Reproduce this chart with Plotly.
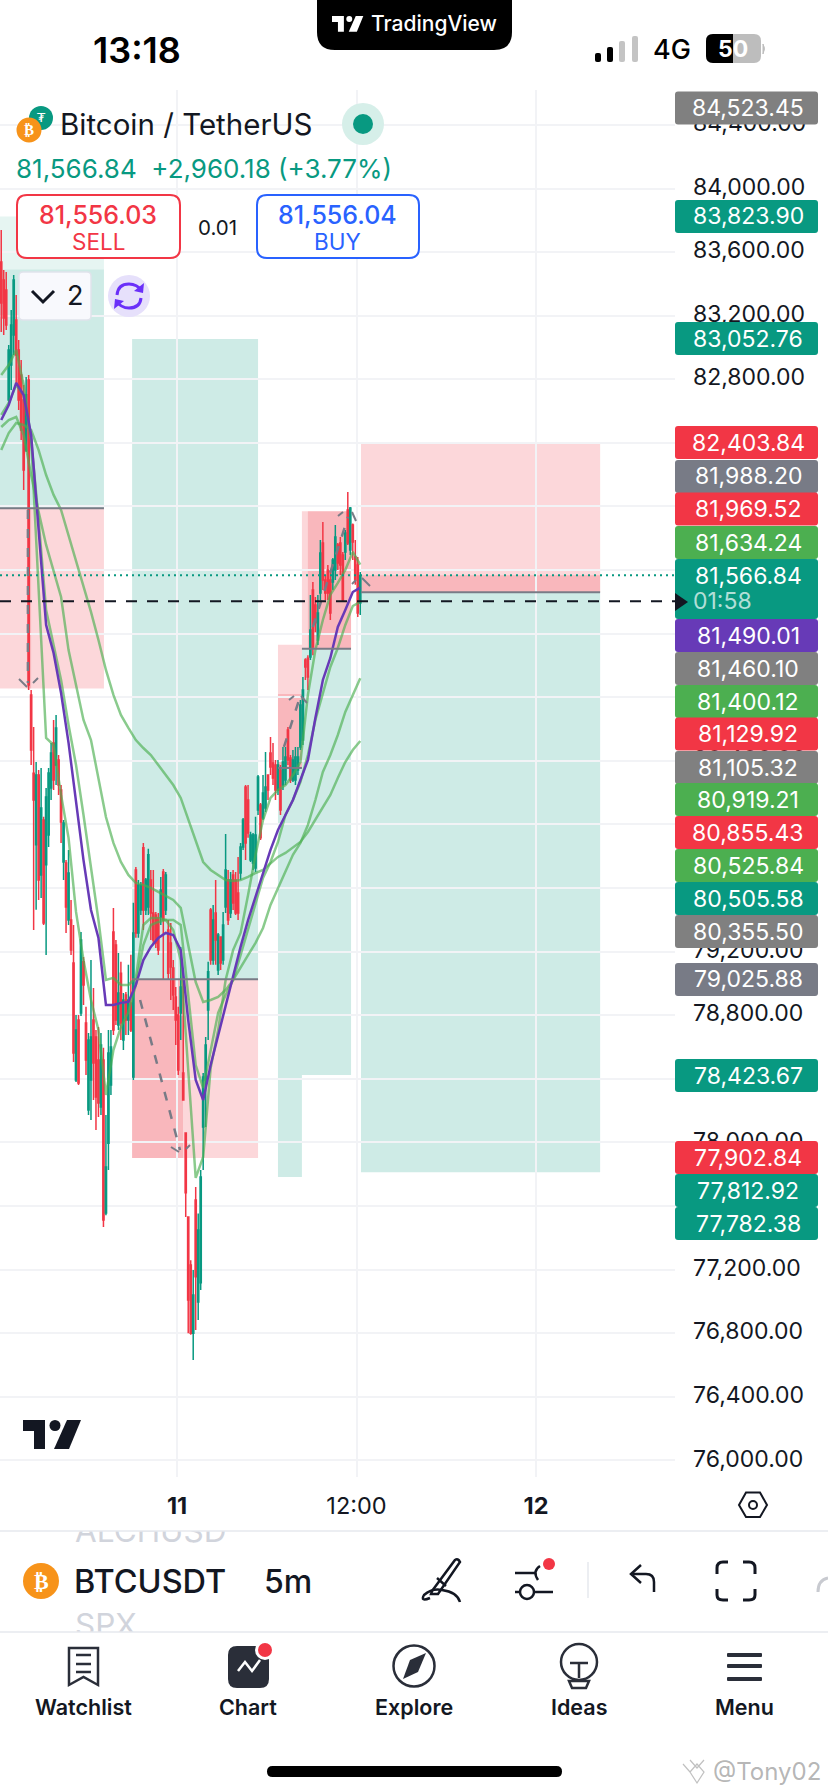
import re
import pandas as pd
import plotly.graph_objects as go

W, H = 828, 1792

##### chart data #####
opens = [83538,83425,83362,82670,82890,83079,83173,82984,82827,82670,
         82355,82796,80814,80323,79872,80311,79682,80028,79746,79934,
         80230,80513,80374,80405,80217,79764,79758,79399,79399,79129,
         78393,78770,78815,79136,78752,78204,78393,78770,78663,78518,
         78223,78518,77556,77995,78362,79324,79242,78739,79065,78644,
         78928,78770,78877,78412,79714,79318,79462,79853,79462,79481,
         79651,79443,79431,79412,79418,79701,79462,79336,79254,79097,
         78915,78802,78815,78437,78060,77531,77230,76800,77638,76997,
         77117,78098,78393,78833,79462,79147,79443,79085,79293,79147,
         79481,79651,79443,79683,79651,79569,79695,79859,80236,80154,
         79777,79758,79726,80091,80123,80041,80104,80311,80450,80387,
         80374,80217,80343,80248,80280,80594,80418,80280,80280,80343,
         80488,80531,81034,81046,81054,81475,81381,81160,81456,81770,
         81538,81601,81538,81525,81601,81758,81770,81695,81714,81978,
         81726,81884,81682,81632,81393]
highs = [83739,83487,83475,83016,83236,83456,83330,83047,82921,82764,
         82815,82827,80846,80613,80393,80342,80355,80048,80230,80355,
         80513,80657,80688,80437,80248,80028,79776,79840,79525,79368,
         78802,78802,79324,79167,78853,78689,79148,78972,78707,78727,
         78689,78595,78173,78708,78708,79475,79273,79192,79136,78940,
         78947,79117,79180,79507,79733,79651,79639,79884,79664,79847,
         79714,79714,79450,79443,79670,79720,79701,79399,79380,79147,
         78978,78853,79229,79065,78060,77531,77260,77198,77720,77553,
         77827,78437,78664,79136,79475,79494,79651,79318,79293,79450,
         79940,79714,79701,79714,79701,79796,79884,80040,80248,80248,
         79954,79947,80048,80311,80135,80311,80456,80311,80550,80512,
         80406,80406,80374,80488,80488,80613,80437,80469,80488,80488,
         80783,80928,81046,81065,81444,81525,81431,81444,81789,81903,
         81569,81632,81601,81676,81884,81770,81808,81714,81852,82091,
         81997,81893,81789,81682,81588]
lows = [83097,83079,83110,82638,82733,82953,82764,82607,82418,82104,
        82342,80846,80374,79336,79463,79525,79538,79368,79179,79859,
        80154,80217,80248,80186,79884,79651,79318,79368,79179,78506,
        78380,78362,78796,78865,78424,78173,78142,78267,78078,78160,
        78173,77468,77543,77827,78299,78676,78739,78707,78644,78581,
        78676,78676,78695,78393,79287,79287,79431,79336,79431,79431,
        79273,79242,79223,79179,79368,79022,79431,79022,78896,78833,
        78613,78424,78644,78267,77531,76800,76790,76632,76820,76883,
        77072,77827,78098,78644,79117,79117,79117,79053,79085,79117,
        79443,79368,79412,79462,79431,79399,79651,79840,79776,79916,
        79764,79714,79701,80060,79902,80028,80079,80154,80311,80248,
        80154,80186,80060,80217,80248,80374,80261,80267,80248,80311,
        80469,80500,80909,80846,81034,81065,81211,81129,81412,81475,
        81412,81412,81286,81475,81538,81601,81569,81400,81663,81758,
        81695,81663,81507,81305,81318]
closes = [83280,83186,83142,82984,83142,83425,82953,82670,82481,82230,
          82702,80877,80468,80154,80311,79651,80103,79380,80173,80324,
          80450,80280,80607,80248,80016,80009,79481,79695,79210,78563,
          78707,78374,79273,78991,78518,78644,78663,78500,78286,78248,
          78613,77512,77846,78563,78601,78707,78770,78940,78752,78896,
          78770,78896,78707,79318,79318,79620,79620,79462,79651,79809,
          79443,79273,79254,79210,79588,79399,79683,79065,79103,78928,
          78770,78456,78978,78267,77683,77009,76800,77040,77155,77449,
          77783,78412,78613,79073,79147,79399,79273,79305,79129,79368,
          79714,79399,79651,79506,79443,79443,79859,80028,79884,79947,
          79934,79934,79934,80298,79916,80198,80236,80217,80362,80293,
          80217,80374,80091,80393,80425,80406,80280,80406,80425,80425,
          80752,80846,80991,80928,81223,81116,81268,81330,81708,81538,
          81456,81456,81330,81663,81808,81645,81632,81412,81833,81770,
          81991,81777,81538,81330,81566]

# moving averages, one reading every third candle
ma_purple = [82544,82638,82777,82701,82450,81852,81255,81079,80827,80513,
             80135,79776,79462,79286,78865,78865,78878,78884,78991,79147,
             79230,79286,79318,79305,79210,78770,78393,78267,78487,78676,
             78865,79053,79230,79399,79544,79683,79840,79965,80060,80154,
             80280,80405,80670,80909,81047,81242,81349,81462,81490]
ma_fast = [82827,82890,82984,82764,82418,81475,80544,80500,80186,79916,
           79450,79147,78896,78707,78299,78581,78726,78821,78991,79242,
           79368,79387,79399,79336,79147,78456,77777,77909,78469,78707,
           79022,79210,79318,79557,79809,80028,80167,80217,80248,80311,
           80393,80815,81097,81286,81444,81519,81601,81714,81634]
ma_mid = [82576,82651,82764,82701,82418,81915,81349,81129,80909,80626,
          80374,80060,79726,79399,79022,79035,78991,78991,79035,79368,
          79412,79412,79399,79399,79368,78928,78487,78343,78581,78815,
          78928,79022,79179,79336,79506,79664,79764,79890,80060,80154,
          80267,80437,80657,80827,80991,81110,81255,81374,81400]
ma_slow = [82500,82544,82563,82450,82198,81966,81758,81588,81431,81097,
           80877,80657,80531,80280,80047,79884,79764,79683,79632,79620,
           79601,79576,79551,79525,79475,79242,79009,78884,78896,78915,
           78959,79022,79104,79179,79255,79349,79494,79601,79701,79809,
           79884,79997,80154,80330,80437,80563,80708,80815,80919]
ma_long = [82355,82462,82525,82513,82481,82355,82198,82073,81978,81821,
           81663,81506,81337,81160,80972,80815,80689,80607,80531,80481,
           80437,80374,80311,80248,80167,80028,79902,79764,79714,79683,
           79651,79645,79651,79670,79695,79714,79758,79796,79821,79853,
           79890,79953,80028,80104,80186,80293,80393,80468,80525]

# position tool boxes: start, end, top price, bottom price, kind
box_start = ["2025-03-10 12:10","2025-03-10 12:10","2025-03-10 12:10","2025-03-10 13:58",
             "2025-03-10 21:00","2025-03-10 21:00","2025-03-10 21:00",
             "2025-03-11 06:45","2025-03-11 06:45","2025-03-11 06:45",
             "2025-03-11 08:21","2025-03-11 08:21","2025-03-11 08:45",
             "2025-03-11 12:18","2025-03-11 12:18","2025-03-11 12:18"]
box_end = ["2025-03-10 19:07","2025-03-10 19:07","2025-03-10 19:07","2025-03-10 14:15",
           "2025-03-11 05:25","2025-03-11 05:25","2025-03-11 00:24",
           "2025-03-11 08:21","2025-03-11 08:21","2025-03-11 08:21",
           "2025-03-11 11:38","2025-03-11 11:38","2025-03-11 11:38",
           "2025-03-12 04:17","2025-03-12 04:17","2025-03-12 04:17"]
box_top = [83490,83823.90,81988.20,81988.20,
           83052.76,79025.88,79025.88,
           81129.92,80355.50,80820,
           81969.52,81105.32,81969.52,
           82403.84,81460.10,81566.84]
box_bottom = [81988.20,83490,80855.43,80855.43,
              79025.88,77902.84,77902.84,
              80355.50,77782.38,80355.50,
              81105.32,78423.67,81105.32,
              81460.10,77812.92,81460.10]
box_kind = ["g","p","r","r","g","r","r","r","g","r","r","g","r","r","g","r"]

# entry lines of the boxes
entry_start = ["2025-03-10 12:10","2025-03-10 21:00","2025-03-11 06:45","2025-03-11 08:21","2025-03-11 12:18"]
entry_end = ["2025-03-10 19:07","2025-03-11 05:25","2025-03-11 08:21","2025-03-11 11:38","2025-03-12 04:17"]
entry_price = [81988.20,79025.88,80355.50,81105.32,81460.10]

# dashed trade paths
path_times = [["2025-03-10 14:02","2025-03-10 14:02"],["2025-03-10 21:32","2025-03-11 00:12"],
              ["2025-03-11 07:09","2025-03-11 08:13"],["2025-03-11 09:05","2025-03-11 11:26"]]
path_prices = [[81978,80890],[78896,77952],[80488,80800],[81242,81934]]

price_ticks = list(range(76000, 84800, 400))
time_ticks = ["2025-03-11 00:00","2025-03-11 12:00","2025-03-12 00:00"]
time_labels = ["<b>11</b>","12:00","<b>12</b>"]

last_price = 81566.84
bid_line = 81404

tag_text = ["84,523.45","83,823.90","83,052.76","82,403.84","81,988.20","81,969.52","81,634.24",
            "81,490.01","81,460.10","81,400.12","81,129.92","81,105.32","80,919.21","80,855.43",
            "80,525.84","80,505.58","80,355.50","79,025.88","78,423.67","77,902.84","77,812.92","77,782.38"]
tag_kind = ["gray","teal","teal","red","slate","red","green",
            "purple","gray","green","red","gray","green","red",
            "green","teal","gray","slate","teal","red","teal","teal"]
tag_top = [91.5,200,322,426,460,492.5,526,619,652,685,717.5,751,783,816,849,882,915,963,1059,1141,1174,1207]

UP = "#089981"
DOWN = "#F23645"
INK = "#131722"
tag_colors = {"gray":"#808080","slate":"#787B86","teal":UP,"red":DOWN,"green":"#4CAF50","purple":"#673AB7"}
box_colors = {"g":"rgba(8,153,129,0.2)","p":"rgba(8,153,129,0.1)","r":"rgba(242,54,69,0.2)"}
FONT = "Inter"
GRID = "#F2F3F6"

##### helpers for the phone screen bits, everything in screen pixels #####
shapes = []
notes = []

def px_path(d):
    out = []
    is_x = True
    for tok in re.findall(r"[A-Za-z]|-?\d+\.?\d*", d):
        if tok.isalpha():
            out.append(tok)
            is_x = True
        else:
            v = float(tok)
            out.append(str(v / W if is_x else 1 - v / H))
            is_x = not is_x
    return " ".join(out)

def draw(d, fill=None, line=None, width=0):
    shapes.append(dict(type="path", path=px_path(d), xref="paper", yref="paper", layer="above",
                       fillcolor=fill or "rgba(0,0,0,0)",
                       line=dict(color=line or "rgba(0,0,0,0)", width=width)))

def rrect(x0, y0, x1, y1, r, fill=None, line=None, width=0):
    d = (f"M{x0+r} {y0} L{x1-r} {y0} Q{x1} {y0} {x1} {y0+r} L{x1} {y1-r} Q{x1} {y1} {x1-r} {y1} "
         f"L{x0+r} {y1} Q{x0} {y1} {x0} {y1-r} L{x0} {y0+r} Q{x0} {y0} {x0+r} {y0} Z")
    draw(d, fill, line, width)

def circle(cx, cy, r, fill=None, line=None, width=0):
    shapes.append(dict(type="circle", xref="paper", yref="paper", layer="above",
                       x0=(cx - r) / W, x1=(cx + r) / W, y0=1 - (cy + r) / H, y1=1 - (cy - r) / H,
                       fillcolor=fill or "rgba(0,0,0,0)",
                       line=dict(color=line or "rgba(0,0,0,0)", width=width)))

def note(x, y, text, size, color=INK, weight=400, anchor="center", family=FONT):
    notes.append(dict(x=x / W, y=1 - y / H, xref="paper", yref="paper", text=text, showarrow=False,
                      xanchor=anchor, yanchor="middle", borderpad=0,
                      font=dict(size=size, color=color, family=family, weight=weight)))

def tv_logo(x, y, s, color):
    # s=1 is the 58 px wide logo
    draw(f"M{x} {y} L{x+22*s} {y} L{x+22*s} {y+29*s} L{x+11*s} {y+29*s} L{x+11*s} {y+11*s} L{x} {y+11*s} Z", color)
    circle(x + 32 * s, y + 5.5 * s, 5.5 * s, color)
    draw(f"M{x+44*s} {y} L{x+58*s} {y} L{x+46*s} {y+29*s} L{x+31*s} {y+29*s} Z", color)

##### candles and lines #####
times = pd.date_range("2025-03-10 12:15", periods=len(opens), freq="10min")
ma_times = times[::3]

fig = go.Figure()
fig.add_trace(go.Candlestick(x=times, open=opens, high=highs, low=lows, close=closes,
                             increasing=dict(line=dict(color=UP, width=1.5), fillcolor=UP),
                             decreasing=dict(line=dict(color=DOWN, width=1.5), fillcolor=DOWN),
                             whiskerwidth=0, hoverinfo="skip", showlegend=False))
for vals in [ma_long, ma_slow, ma_mid, ma_fast]:
    fig.add_trace(go.Scatter(x=ma_times, y=vals, mode="lines", hoverinfo="skip", showlegend=False,
                             line=dict(color="rgba(76,175,80,0.65)", width=2.5)))
fig.add_trace(go.Scatter(x=ma_times, y=ma_purple, mode="lines", hoverinfo="skip", showlegend=False,
                         line=dict(color="#673AB7", width=2.5)))
for tx, ty in zip(path_times, path_prices):
    fig.add_trace(go.Scatter(x=tx, y=ty, mode="lines", hoverinfo="skip", showlegend=False,
                             line=dict(color="#787B86", width=2.5, dash="9px,10px")))

# the symbols scrolling behind the ticker row, cut off by their own little subplot
fig.add_trace(go.Scatter(x=[75, 75], y=[1534, 1628], text=["ALCHUSD", "SPX"], mode="text",
                         textposition="middle right", xaxis="x2", yaxis="y2", hoverinfo="skip",
                         showlegend=False, cliponaxis=True,
                         textfont=dict(size=31.5, color="#D1D4DC", family=FONT)))

##### boxes from the position tool #####
for x0, x1, top, bot, kind in zip(box_start, box_end, box_top, box_bottom, box_kind):
    shapes.append(dict(type="rect", xref="x", yref="y", x0=x0, x1=x1, y0=bot, y1=top, layer="below",
                       fillcolor=box_colors[kind], line=dict(width=0)))
for x0, x1, p in zip(entry_start, entry_end, entry_price):
    shapes.append(dict(type="line", xref="x", yref="y", x0=x0, x1=x1, y0=p, y1=p, layer="above",
                       line=dict(color="#787B86", width=2)))

shapes.append(dict(type="line", xref="x domain", yref="y", x0=0, x1=1, y0=last_price, y1=last_price,
                   layer="above", line=dict(color=UP, width=2, dash="2px,4px")))
shapes.append(dict(type="line", xref="x domain", yref="y", x0=0, x1=1, y0=bid_line, y1=bid_line,
                   layer="above", line=dict(color="#131722", width=2, dash="11px,10px")))

# arrow heads of the trade paths
for d in ["M19 679 L27 687", "M33 683 L38 678", "M171 1147 L179 1152", "M186 1149 L190 1145",
          "M289 700 L294 696", "M301 696 L307 703", "M338 516 L343 512", "M352 512 L356 521",
          "M352 584 L356 580", "M362 578 L370 586"]:
    draw(d, None, "#787B86", 2)

##### price tags on the right #####
for text, kind, top in zip(tag_text, tag_kind, tag_top):
    rrect(675, top, 818, top + 33, 3, tag_colors[kind])
    note(748, top + 16.5, text, 23, "#FFFFFF")
rrect(675, 559, 818, 619, 3, UP)
note(748, 576, "81,566.84", 23, "#FFFFFF")
note(692, 601, "01:58", 23, "rgba(255,255,255,0.7)", anchor="left")
draw("M675 593 L688 602 L675 611 Z", "#131722")

##### status bar #####
note(137, 50, "13:18", 36, "#000000", 600)
draw("M317 0 L512 0 L512 32 Q512 50 494 50 L335 50 Q317 50 317 32 Z", "#000000")
tv_logo(332, 16, 0.54, "#FFFFFF")
note(434, 24, "TradingView", 21, "#FFFFFF", 500)
for x, top, col in [(598, 53, "#000000"), (610, 47, "#000000"), (622, 41, "#C4C4C4"), (635, 36, "#C4C4C4")]:
    rrect(x - 3, top, x + 3, 62, 2, col)
note(672, 50, "4G", 27, "#000000", 500)
rrect(706, 34, 761, 63, 7, "#BDBDBD")
draw("M733 34 L713 34 Q706 34 706 41 L706 56 Q706 63 713 63 L733 63 Z", "#000000")
note(733, 49, "<b>50</b>", 23, "#FFFFFF")
draw("M763 44 Q766 48 763 54 Z", "#BDBDBD", "#BDBDBD", 1)

##### header #####
circle(41, 118, 12, UP)
note(41, 117, "₮", 13, "#FFFFFF", family="DejaVu Sans")
circle(29, 130, 12.5, "#F7931A")
note(29, 130, "<b>₿</b>", 15, "#FFFFFF", family="DejaVu Sans")
note(59, 124, "Bitcoin / TetherUS", 29.5, INK, anchor="left")
circle(363, 124, 21, "#D6EFE9")
circle(363, 124, 10, UP)
note(15, 168, "81,566.84  +2,960.18 (+3.77%)", 26, UP, anchor="left")

rrect(17, 195, 180, 258, 10, "#FFFFFF", DOWN, 2)
note(98, 215, "81,556.03", 25, DOWN, 500)
note(98, 242, "SELL", 22.5, DOWN)
note(217, 227, "0.01", 20.5, INK)
rrect(257, 195, 419, 258, 10, "#FFFFFF", "#2962FF", 2)
note(337, 215, "81,556.04", 25, "#2962FF", 500)
note(337, 242, "BUY", 22.5, "#2962FF")

rrect(19, 272, 91, 320, 4, "#F8F9FD", "#E0E3EB", 1.5)
draw("M32 291 L43 302 L54 291", None, "#131722", 3)
note(75, 296, "2", 27, INK)
circle(129, 296, 21, "#E6E0FB")
draw("M117 295 Q118 284 129 284 Q137 284 142 291", None, "#6A2FF9", 3)
draw("M144 283 L143 293 L134 291 Z", "#6A2FF9")
draw("M141 298 Q140 308 129 308 Q121 308 116 301", None, "#6A2FF9", 3)
draw("M114 309 L115 299 L124 301 Z", "#6A2FF9")

##### bottom of the chart #####
tv_logo(23, 1420, 1, "#131722")
draw("M739 1505 L746 1492.5 L760 1492.5 L767 1505 L760 1517 L746 1517 Z", None, INK, 2)
circle(753, 1505, 4, None, INK, 2)
draw("M0 1531 L828 1531", None, "#E6E8EE", 1.5)
draw("M0 1632 L828 1632", None, "#E6E8EE", 1.5)

# ticker row
circle(41, 1581, 18, "#F7931A")
note(41, 1581, "<b>₿</b>", 22, "#FFFFFF", family="DejaVu Sans")
note(73, 1581, "BTCUSDT", 32.5, INK, 500, anchor="left")
note(263, 1581, "5m", 32, INK, 500, anchor="left")
draw("M432 1591 L455 1560 Q458 1558 460 1562 L438 1594 L431 1594 Z", None, INK, 2.5)
draw("M437 1578 L446 1586", None, INK, 2.5)
draw("M430 1598 Q420 1602 424 1595 Q432 1588 442 1590 Q457 1592 460 1602", None, INK, 2.5)
draw("M515 1573 L536 1573", None, INK, 2.5)
draw("M540 1566 Q532 1571 538 1580", None, INK, 2.5)
circle(527, 1592, 7, None, INK, 2.5)
draw("M515 1592 L520 1592 M534 1592 L553 1592", None, INK, 2.5)
circle(549, 1564, 6, DOWN)
draw("M588 1562 L588 1598", None, "#E6E8EE", 1.5)
draw("M654 1592 L654 1582 Q654 1574 646 1574 L633 1574", None, INK, 2.5)
draw("M641 1565 L631 1574 L641 1583", None, INK, 2.5)
for d in ["M717 1574 L717 1568 Q717 1562 723 1562 L728 1562", "M743 1562 L749 1562 Q755 1562 755 1568 L755 1574",
          "M755 1589 L755 1595 Q755 1600 749 1600 L743 1600", "M728 1600 L723 1600 Q717 1600 717 1595 L717 1589"]:
    draw(d, None, INK, 3)
draw("M818 1592 Q818 1580 828 1578", None, "#C8CAD0", 3)

# nav bar
draw("M69 1648 L98 1648 L98 1685 L83.5 1677 L69 1685 Z", None, "#2A2E39", 2.5)
draw("M76 1655 L91 1655 M76 1664 L91 1664 M76 1672 L91 1672", None, "#2A2E39", 2.5)
rrect(228, 1646, 269, 1688, 9, "#2A2E39")
draw("M238 1671 L245 1662 L252 1671 L260 1660", None, "#FFFFFF", 2.5)
circle(265, 1650, 10, "#FFFFFF")
circle(265, 1650, 7, DOWN)
circle(414, 1666, 20.5, None, "#2A2E39", 2.5)
draw("M426 1653 L418 1672 L403 1679 L410 1660 Z", "#2A2E39")
circle(579, 1662, 18, None, "#2A2E39", 2.5)
draw("M570 1663 L588 1663 M579 1663 L579 1678", None, "#2A2E39", 2.5)
draw("M569 1681 L589 1681 L586 1688 L572 1688 Z", None, "#2A2E39", 2.5)
for y in [1655, 1666, 1679]:
    rrect(727, y - 2, 762, y + 2, 1, "#2A2E39")
for x, label in zip([83, 248, 414, 579, 744], ["Watchlist", "Chart", "Explore", "Ideas", "Menu"]):
    note(x, 1707, label, 21.5, INK, 600)

rrect(267, 1766, 562, 1777, 5.5, "#000000")
draw("M683 1764 L690 1772 L697 1764 L704 1772 L697 1783 L690 1772 M690 1760 L697 1768 L704 1760",
     None, "rgba(150,150,150,0.6)", 1.2)
note(767, 1771, "@Tony02", 24, "rgba(140,140,140,0.65)")

##### layout #####
fig.update_layout(
    width=W, height=H, margin=dict(l=0, r=0, t=0, b=0),
    paper_bgcolor="#FFFFFF", plot_bgcolor="#FFFFFF",
    showlegend=False, hovermode=False, shapes=shapes, annotations=notes,
    xaxis=dict(domain=[0, 675 / W], range=["2025-03-10 12:10:05", "2025-03-12 09:17:20"], type="date",
               rangeslider=dict(visible=False), tickmode="array", tickvals=time_ticks, ticktext=time_labels,
               tickfont=dict(size=23.5, color=INK, family=FONT), ticks="", ticklabelstandoff=12,
               showgrid=True, gridcolor=GRID, gridwidth=1.5, zeroline=False, showline=False,
               anchor="y"),
    yaxis=dict(domain=[1 - 1477 / H, 1 - 90 / H], range=[75896, 84619.5], side="right",
               tickmode="array", tickvals=price_ticks, tickformat=",.2f", ticks="", ticklabelstandoff=17,
               ticklabelshift=-2, tickfont=dict(size=23, color=INK, family=FONT),
               showgrid=True, gridcolor=GRID, gridwidth=1.5, zeroline=False, showline=False,
               anchor="x"),
    xaxis2=dict(domain=[0, 1], range=[0, W], visible=False, anchor="y2"),
    yaxis2=dict(domain=[1 - 1632 / H, 1 - 1531 / H], range=[1632, 1531], visible=False, anchor="x2"),
)

fig.write_html("out.html", config=dict(displayModeBar=False),
               post_script="document.body.style.margin='0';document.body.style.overflow='hidden';")
